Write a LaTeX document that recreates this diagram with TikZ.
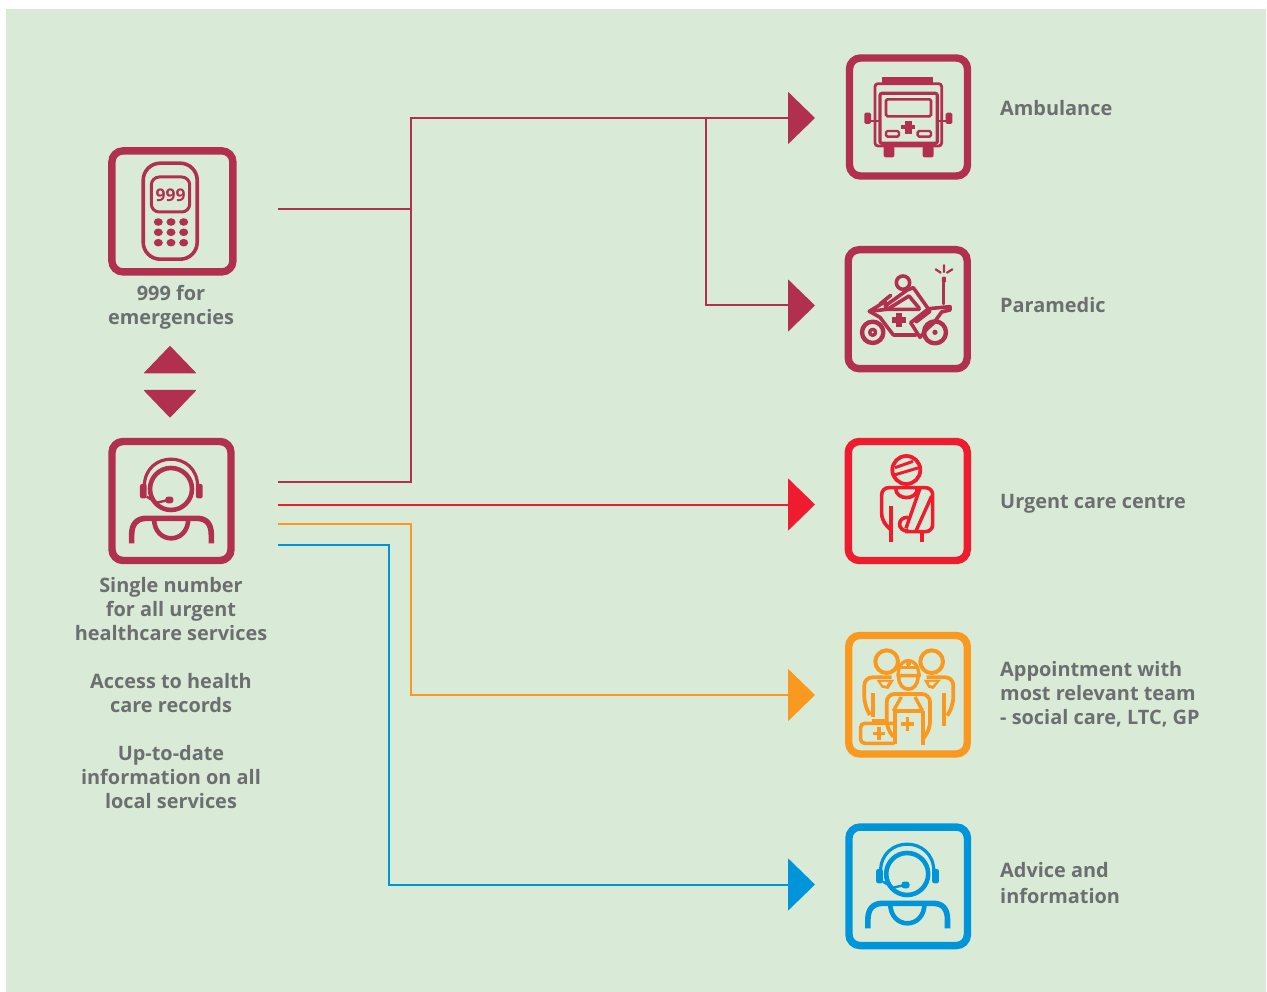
\documentclass[tikz,border=0pt]{standalone}
\usepackage{fontspec}
\setmainfont{Open Sans}
\usetikzlibrary{arrows.meta}
\definecolor{bgc}{HTML}{D9EBD6}
\definecolor{crim}{HTML}{B2304F}
\definecolor{redc}{HTML}{EE1C2E}
\definecolor{oran}{HTML}{F9991F}
\definecolor{bluc}{HTML}{0095DA}
\definecolor{txtc}{HTML}{6D6E71}
\tikzset{
  iconbox/.style={draw=#1,line width=7.4pt,rounded corners=11pt,minimum width=119pt,minimum height=119pt,inner sep=0pt},
  link/.style={draw=#1,line width=2pt,line join=miter},
  arrowlink/.style={draw=#1,line width=2pt,-{Triangle[length=27pt,width=52pt]}},
  lab/.style={font=\fontsize{19.9}{24}\selectfont\bfseries,text=txtc,inner sep=0pt},
  lableft/.style={lab,anchor=west,align=left},
  labmid/.style={lab,anchor=center,align=center},
}
\newcommand{\opicon}[3]{% colour, shift x, shift y ; zoom coordinates
\begin{scope}[shift={(#2,#3)},x=0.3333pt,y=-0.3333pt,draw=#1,fill=#1,line cap=butt,line join=round]
  \draw[line width=4.6pt] (243,447) circle[radius=63];
  \draw[line width=3.2pt] (163,440) .. controls (163,330) and (323,330) .. (323,440);
  \fill[rounded corners=2pt] (150,432) rectangle (170,475);
  \fill[rounded corners=2pt] (318,432) rectangle (338,475);
  \draw[line width=2.4pt] (170,470) -- (200,488) -- (232,481);
  \fill[rounded corners=2.5pt] (226,470) rectangle (250,490);
  \draw[line width=5.6pt] (125,610) -- (125,585) .. controls (125,552) and (140,535) .. (170,535) -- (320,535) .. controls (350,535) and (364,552) .. (364,585) -- (364,610);
  \draw[line width=4.6pt] (192,535) .. controls (192,615) and (295,615) .. (295,535);
\end{scope}}
\begin{document}
\begin{tikzpicture}[x=1pt,y=-1pt]
\useasboundingbox (0,0) rectangle (1267,992);
\fill[bgc] (6,9) rectangle (1266,992);

% icon frames
\node[iconbox=crim,minimum width=121pt,minimum height=121pt] (phone) at (172.4,211.4) {};
\node[iconbox=crim] (operator) at (171.5,501) {};
\node[iconbox=crim,minimum width=118pt,minimum height=118pt] (ambulance) at (908.5,117) {};
\node[iconbox=crim] (paramedic) at (907.7,309.2) {};
\node[iconbox=redc] (urgent) at (907.8,501) {};
\node[iconbox=oran,minimum width=118.5pt,minimum height=118.5pt] (team) at (908,694.7) {};
\node[iconbox=bluc,minimum width=118.5pt,minimum height=118.5pt] (advice) at (908.2,886.3) {};

% connector anchors
\coordinate (phoneout) at (278,209.5);
\coordinate (crimout) at (278,482);
\coordinate (redout) at (278,504.5);
\coordinate (orout) at (278,524);
\coordinate (blout) at (278,545);
\coordinate (busa) at (410.5,209.5);
\coordinate (busb) at (410.5,482);
\coordinate (bust) at (410.5,118);
\coordinate (branch) at (706,118);
\coordinate (brancht) at (706,305.5);
\coordinate (orc) at (410.5,524);
\coordinate (ord) at (410.5,695);
\coordinate (blc) at (389,545);
\coordinate (bld) at (389,884.5);
\coordinate (ambin) at (815,118);
\coordinate (parin) at (815,305.5);
\coordinate (urgin) at (815,504.5);
\coordinate (teamin) at (815,695);
\coordinate (advin) at (815,884.5);

% connectors
\draw[link=crim] (phoneout) -- (busa);
\draw[arrowlink=crim] (crimout) -- (busb) -- (bust) -- (ambin);
\draw[arrowlink=crim] (branch) -- (brancht) -- (parin);
\draw[arrowlink=redc] (redout) -- (urgin);
\draw[arrowlink=oran] (orout) -- (orc) -- (ord) -- (teamin);
\draw[arrowlink=bluc] (blout) -- (blc) -- (bld) -- (advin);

% up/down arrows
\fill[crim,draw=crim,line width=1pt,line join=round] (170,346.5) -- (144.5,373) -- (195.5,373) -- cycle;
\fill[crim,draw=crim,line width=1pt,line join=round] (170,417) -- (144.5,390.5) -- (195.5,390.5) -- cycle;

% phone icon
\begin{scope}[draw=crim,fill=crim]
  \draw[line width=3.6pt,rounded corners=17pt] (143.2,163.2) rectangle (197.2,259.2);
  \draw[line width=3pt,rounded corners=8pt] (151.3,177) rectangle (189.7,212);
  \node[font=\fontsize{17.5}{20}\selectfont\bfseries,text=crim,inner sep=0pt] (ninenine) at (170.5,195.5) {999};
  \foreach \xx in {158.3,171,183.7} \foreach \yy in {222,232.3,242.7}
    \fill (\xx,\yy) ellipse[x radius=4.5,y radius=3.8];
\end{scope}

% operator icons
\opicon{crim}{90}{340}
\opicon{bluc}{826.2}{725}

% ambulance
\begin{scope}[shift={(830,45)},x=0.3333pt,y=-0.3333pt,draw=crim,fill=crim]
  \fill (157,96) rectangle (207,116);
  \fill (262,96) rectangle (308,116);
  \fill (207,100) rectangle (262,116);
  \draw[line width=1pt] (207,96.5) -- (262,96.5);
  \draw[line width=2.8pt,rounded corners=3pt] (135,116) rectangle (335,303);
  \draw[line width=3.2pt,rounded corners=2pt] (150,145) rectangle (322,295);
  \draw[line width=2.6pt,rounded corners=1.5pt] (168,163) rectangle (303,214);
  \fill (225,227) rectangle (245,268);
  \fill (214,241) rectangle (255,252);
  \draw[line width=2.4pt,rounded corners=1.5pt] (168,258) rectangle (207,275);
  \draw[line width=2.4pt,rounded corners=1.5pt] (263,258) rectangle (303,275);
  \fill[rounded corners=2pt] (161,303) rectangle (193,337);
  \fill[rounded corners=2pt] (278,303) rectangle (311,337);
  \fill[rounded corners=1.5pt] (103,203) rectangle (123,237);
  \fill[rounded corners=1.5pt] (347,203) rectangle (367,237);
  \draw[line width=1.4pt] (123,228) -- (150,228) (322,228) -- (347,228);
\end{scope}

% paramedic motorcycle
\begin{scope}[shift={(830,240)},x=0.3333pt,y=-0.3333pt,draw=crim,fill=crim,line join=round,line cap=round]
  \draw[line width=4.4pt] (128,277) circle[radius=32];
  \draw[line width=3.4pt] (128,277) circle[radius=9];
  \draw[line width=4.4pt] (315,277) circle[radius=33];
  \fill (315,277) circle[radius=8];
  \draw[line width=3.6pt] (219,128) circle[radius=20];
  % antenna and rays
  \draw[line width=3pt] (342,128) -- (342,192);
  \fill[rounded corners=1pt] (336,110) rectangle (348,128);
  \draw[line width=2.2pt] (342,76) -- (342,96) (317,88) -- (332,98) (367,88) -- (351,98);
  % rider
  \draw[line width=3.6pt] (172,208) -- (165,198) -- (232,150) -- (250,143) -- (296,208);
  \draw[line width=3.6pt] (172,208) -- (237,168) -- (268,205);
  \draw[line width=3.6pt] (150,192) -- (182,166);
  % bike body
  \draw[line width=3.6pt] (170,208) -- (165,185) -- (118,214) -- (150,232) -- (190,285) -- (258,285);
  \draw[line width=3.6pt] (118,214) -- (170,208) -- (268,208);
  \draw[line width=3.6pt] (296,206) -- (360,200) -- (360,210) -- (335,216) -- (312,248) -- (290,268) -- (270,292) -- (242,248) -- (296,206);
  \draw[line width=3.6pt] (258,246) -- (300,214);
  \fill (199,218) rectangle (216,262);
  \fill (186,232) rectangle (229,248);
\end{scope}

% urgent care patient
\begin{scope}[shift={(830,430)},x=0.3333pt,y=-0.3333pt,draw=redc,fill=redc,line join=round]
  \draw[line width=3.8pt] (229,120) circle[radius=42];
  \draw[line width=3pt] (195,113) -- (249,94) (193,135) -- (267,113);
  \draw[line width=3.6pt,rounded corners=7pt] (181,298) -- (155,272) -- (155,173) -- (308,173) -- (308,305) -- (225,305);
  \draw[line width=3.6pt] (197,175) .. controls (197,212) and (262,212) .. (262,175);
  \draw[line width=3.4pt] (270,175) -- (228,295);
  \draw[line width=3.4pt] (305,198) -- (257,305);
  \draw[line width=3.6pt] (235,262) .. controls (200,260) and (200,305) .. (235,303);
  \draw[line width=4pt] (182,228) -- (182,336);
  \draw[line width=4pt] (275,305) -- (275,336);
\end{scope}

% team
\begin{scope}[shift={(830,625)},x=0.3333pt,y=-0.3333pt,draw=oran,fill=oran,line join=round]
  \draw[line width=4pt] (170,110) circle[radius=34];
  \draw[line width=4pt] (305,110) circle[radius=34];
  \fill[bgc] (203,128) .. controls (215,108) and (255,108) .. (268,128) -- (270,152) -- (204,152) -- cycle;
  \draw[line width=3.4pt] (207,128) .. controls (220,100) and (250,100) .. (263,128) -- (268,152) -- (204,152) -- cycle;
  \draw[line width=3.4pt] (205,128) -- (265,128);
  \fill (231,109) rectangle (239,125);
  \fill (227,113) rectangle (243,120);
  \draw[line width=3.6pt] (206,155) .. controls (206,205) and (264,205) .. (264,155);
  \draw[line width=3.8pt,rounded corners=8pt] (120,270) -- (103,240) -- (103,157) -- (185,157);
  \draw[line width=3.8pt,rounded corners=8pt] (290,157) -- (370,157) -- (370,240) -- (352,272);
  \fill (140,165) -- (192,165) -- (175,192) -- (155,188) -- cycle;
  \fill[bgc] (152,171) -- (176,171) -- (169,182) -- (159,181) -- cycle;
  \fill (282,165) -- (332,165) -- (310,192) -- (295,188) -- cycle;
  \fill[bgc] (297,171) -- (318,171) -- (307,182) -- (298,179) -- cycle;
  \draw[line width=3.8pt] (129,205) -- (129,275);
  \draw[line width=3.8pt] (342,203) -- (342,302);
  \draw[line width=3.8pt,rounded corners=8pt] (190,335) -- (170,310) -- (170,207) -- (300,207) -- (300,315) -- (278,342);
  \draw[line width=3.8pt] (278,258) -- (278,360);
  \draw[line width=3.8pt] (195,356) -- (195,258) -- (278,258);
  \draw[line width=3.4pt] (190,258) -- (214,216) (278,258) -- (255,216);
  \fill (227,276) rectangle (238,317);
  \fill (212,291) rectangle (253,302);
  \draw[line width=3.6pt,rounded corners=4pt] (193,295) -- (92,295) -- (92,355) -- (193,355);
  \draw[line width=2.8pt] (125,286) -- (165,286);
  \fill (141,306) rectangle (152,344);
  \fill (128,320) rectangle (166,331);
\end{scope}

% labels
\node[labmid] (l999) at (171,307.5) {999 for\\emergencies};
\node[labmid] (lsingle) at (171,609.5) {Single number\\for all urgent\\healthcare services};
\node[labmid] (laccess) at (171,693.5) {Access to health\\care records};
\node[labmid] (lupto) at (171,777.5) {Up-to-date\\information on all\\local services};
\node[lableft] (lamb) at (1000,108.5) {Ambulance};
\node[lableft] (lpar) at (1000,305.5) {Paramedic};
\node[lableft] (lurg) at (1000,503.5) {Urgent care centre};
\node[lableft] (lapp) at (1000,694) {Appointment with\\most relevant team\\- social care, LTC, GP};
\node[lableft,font=\fontsize{19.9}{26}\selectfont\bfseries] (ladv) at (1000,883) {Advice and\\information};
\end{tikzpicture}
\end{document}
